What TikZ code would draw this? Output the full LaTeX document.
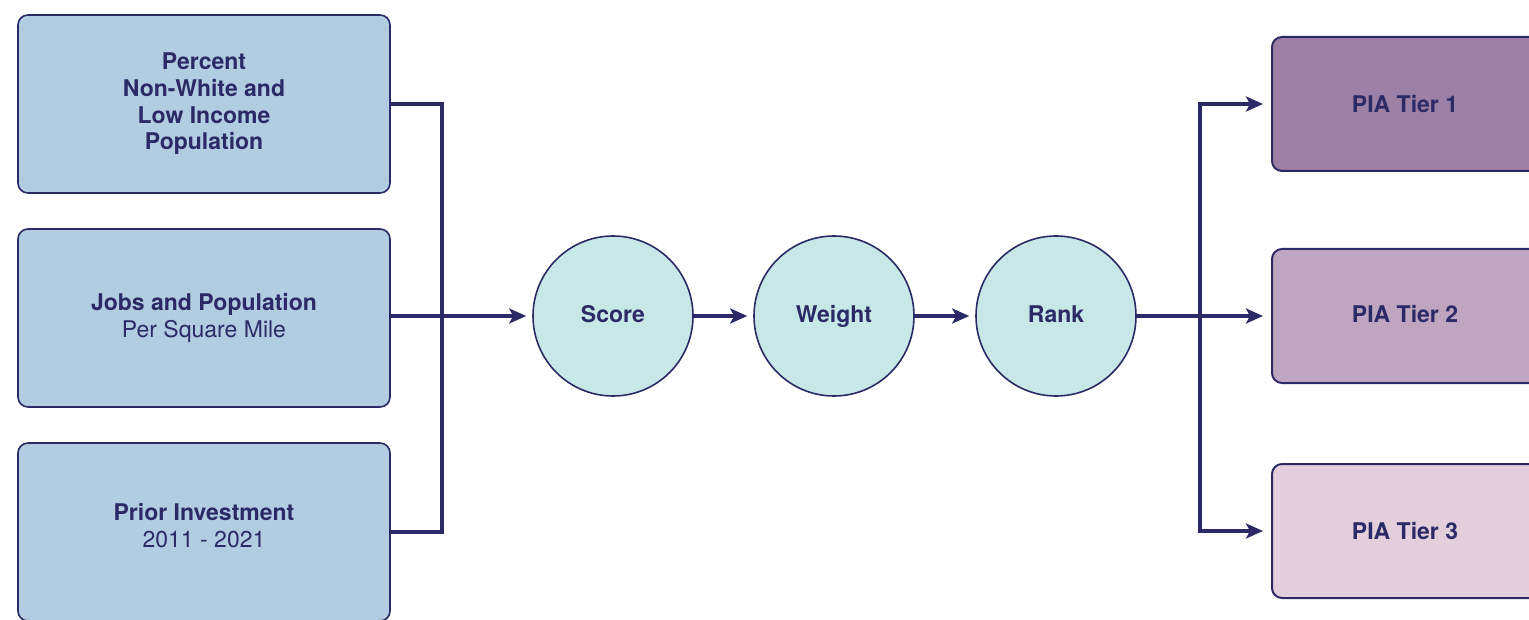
\documentclass[tikz,border=0pt]{standalone}
\usepackage{fontspec}
\setmainfont{TeX Gyre Heros}
\usetikzlibrary{arrows.meta}
\begin{document}
\begin{tikzpicture}[x=1pt,y=-1pt,font=\fontsize{23}{26.7}\selectfont]
  \definecolor{piainkblue}{HTML}{2B2A66}
  \definecolor{piafactor}{HTML}{B2CDE1}
  \definecolor{piastep}{HTML}{C7E8E6}
  \definecolor{piatierone}{HTML}{9C80A5}
  \definecolor{piatiertwo}{HTML}{BFA6C0}
  \definecolor{piatierthree}{HTML}{E2CFDB}
  \tikzset{
    factorbox/.style={draw=piainkblue,line width=1.6pt,fill=piafactor,rounded corners=10pt,
      minimum width=372pt,minimum height=178pt,align=center,text=piainkblue},
    stepcircle/.style={draw=piainkblue,line width=1.6pt,fill=piastep,circle,
      minimum size=160pt,inner sep=0pt,text height=16pt,text depth=2pt,
      text=piainkblue,font=\fontsize{23}{26.7}\selectfont\bfseries},
    tierbox/.style={draw=piainkblue,line width=2pt,rounded corners=10pt,
      minimum width=300pt,minimum height=134pt,anchor=west},
    tierlabel/.style={text=piainkblue,font=\fontsize{23}{26.7}\selectfont\bfseries},
    flow/.style={draw=piainkblue,line width=3.2pt,-{Stealth[length=17pt,width=15pt,inset=4pt]}},
    bus/.style={draw=piainkblue,line width=3.2pt}
  }
  \useasboundingbox (0,0) rectangle (1529,620);

  % factors
  \node[factorbox] (pctbox) at (204,104) {\textbf{Percent}\\\textbf{Non-White and}\\\textbf{Low Income}\\\textbf{Population}};
  \node[factorbox] (jobsbox) at (204,318) {\textbf{Jobs and Population}\\Per Square Mile};
  \node[factorbox] (priorbox) at (204,532) {\textbf{Prior Investment}\\2011 - 2021\\[-14pt]};

  % steps
  \node[stepcircle] (score) at (613,316) {Score};
  \node[stepcircle] (weight) at (834,316) {Weight};
  \node[stepcircle] (rank) at (1056,316) {Rank};

  % tiers
  \node[tierbox,fill=piatierone] (tierone) at (1271,104) {};
  \node[tierlabel] (tieronetext) at (1405,104) {PIA Tier 1};
  \node[tierbox,fill=piatiertwo] (tiertwo) at (1271,316) {};
  \node[tierlabel] (tiertwotext) at (1405,314) {PIA Tier 2};
  \node[tierbox,fill=piatierthree] (tierthree) at (1271,531) {};
  \node[tierlabel] (tierthreetext) at (1405,531) {PIA Tier 3};

  \coordinate (joinleft) at (442,316);
  \coordinate (joinright) at (1200,316);

  % connectors
  \draw[bus] (pctbox.east) -| (joinleft);
  \draw[bus] (priorbox.east) -| (joinleft);
  \draw[flow,shorten >=6pt] (jobsbox.east |- score) -- (score);
  \draw[flow,shorten >=6pt] (score) -- (weight);
  \draw[flow,shorten >=6pt] (weight) -- (rank);
  \draw[bus] (rank.east) -- (joinright);
  \draw[flow,shorten >=8pt] (joinright) |- (tierone.west);
  \draw[flow,shorten >=8pt] (joinright) -- (tiertwo.west);
  \draw[flow,shorten >=8pt] (joinright) |- (tierthree.west);
\end{tikzpicture}
\end{document}
